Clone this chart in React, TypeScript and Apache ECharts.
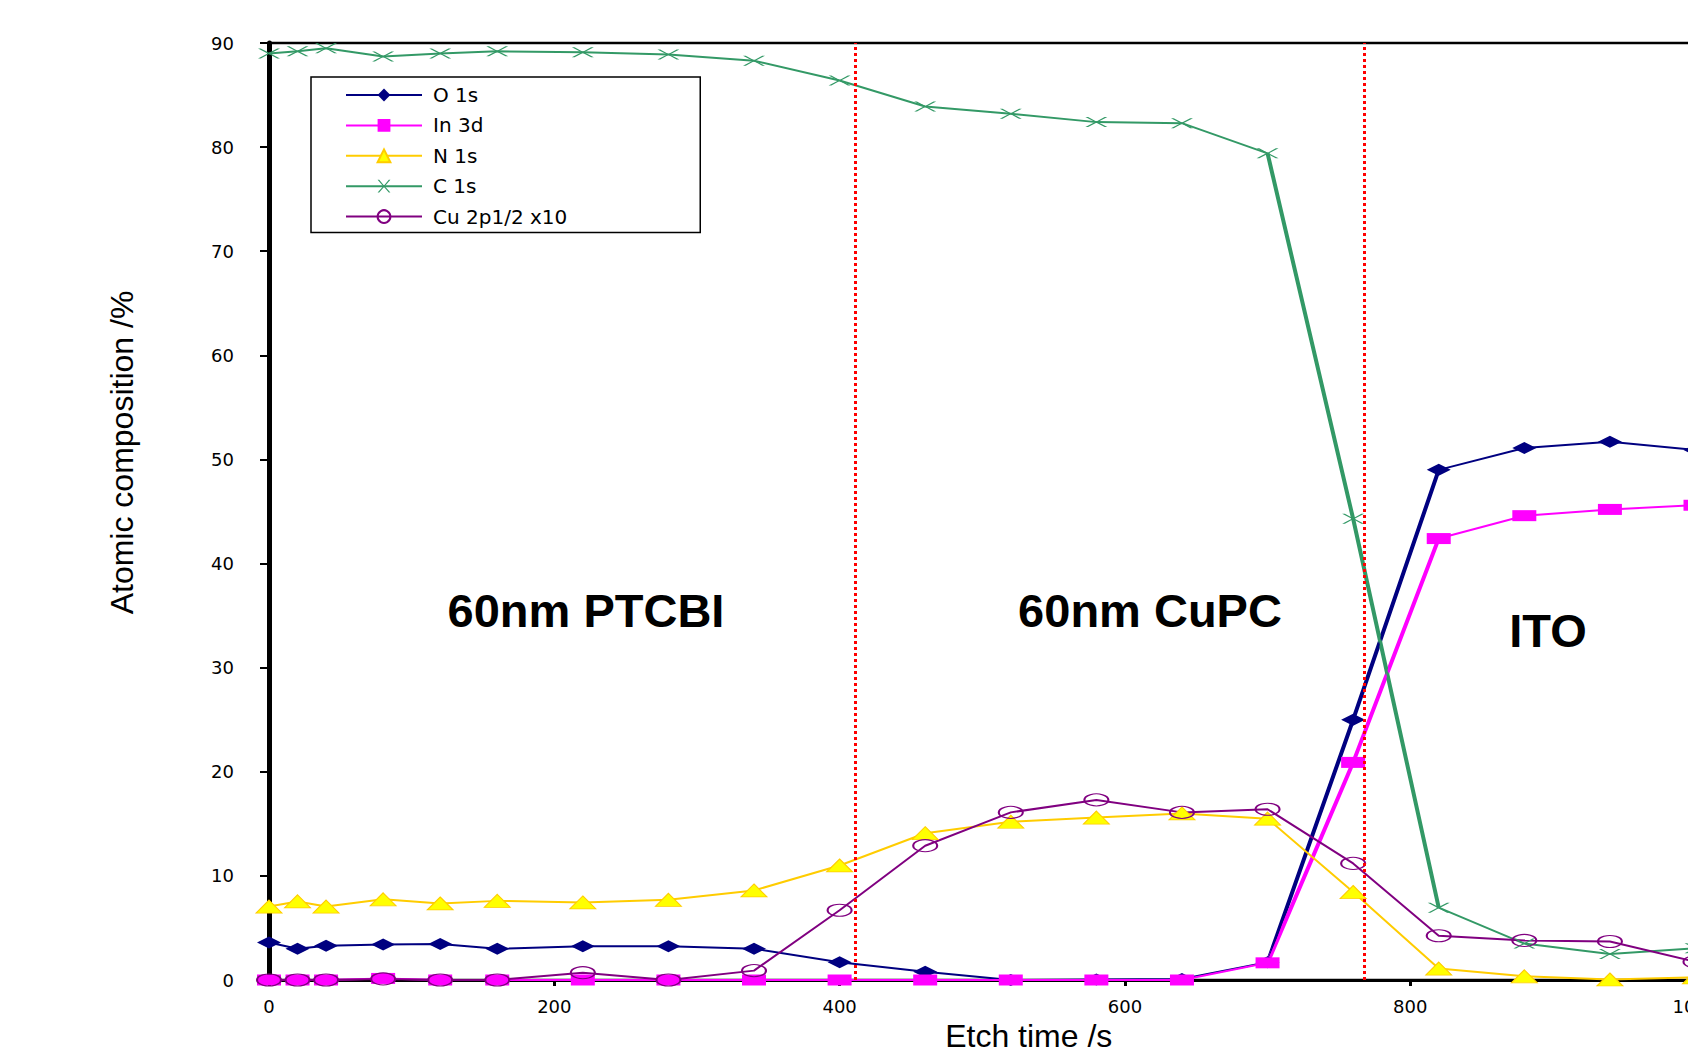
import React, { useEffect, useRef } from 'react';
import * as echarts from 'echarts';

// Etch time (s) of each XPS measurement
const etchTimes = [0, 20, 40, 80, 120, 160, 220, 280, 340, 400, 460, 520, 580, 640, 700, 760, 820, 880, 940, 1000];
// Atomic composition (%)
const o1s = [3.6, 3.0, 3.3, 3.4, 3.45, 3.0, 3.25, 3.25, 3.0, 1.7, 0.8, 0.0, 0.05, 0.1, 1.7, 25.0, 49.0, 51.1, 51.7, 50.9];
const in3d = [0, 0, 0, 0.15, 0, 0, 0, 0, 0, 0, 0, 0, 0, 0, 1.65, 20.9, 42.4, 44.6, 45.2, 45.6];
const n1s = [7.05, 7.55, 7.05, 7.75, 7.35, 7.6, 7.45, 7.7, 8.6, 11.0, 14.1, 15.2, 15.6, 16.0, 15.5, 8.45, 1.1, 0.35, 0.05, 0.25];
const c1s = [89.0, 89.2, 89.5, 88.7, 89.0, 89.2, 89.1, 88.9, 88.3, 86.4, 83.9, 83.2, 82.4, 82.3, 79.4, 44.3, 6.95, 3.5, 2.5, 3.05];
const cu2p = [0, 0, 0, 0.1, 0, 0, 0.7, 0, 0.9, 6.7, 12.9, 16.1, 17.3, 16.1, 16.4, 11.2, 4.25, 3.8, 3.7, 1.75];

const seriesNames = ['O 1s', 'In 3d', 'N 1s', 'C 1s', 'Cu 2p1/2 x10'];
const layerBoundaries = [411, 768];
const layerLabels = ['60nm PTCBI', '60nm CuPC', 'ITO'];
const xAxisRange = [0, 1000];
const yAxisRange = [0, 90];

const X_PATH = 'path://M0,0L3,0L12,8L21,0L24,0L13.5,9L24,18L21,18L12,10L3,18L0,18L10.5,9Z';

export default function App() {
  const ref = useRef<HTMLDivElement>(null);
  useEffect(() => {
    const chart = echarts.init(ref.current!, null, { renderer: 'svg' });
    const pair = (vals: number[]) => etchTimes.map((t, i) => [t, vals[i]]);
    // the steep interface segments (700 → 820 s) are drawn thicker in the original
    const seg = (vals: number[]) => etchTimes.slice(14, 17).map((t, i) => [t, vals[14 + i]]);

    const thick = (name: string, vals: number[], color: string) => ({
      type: 'line', name, data: seg(vals), symbol: 'none', silent: true,
      lineStyle: { color, width: 4 }, emphasis: { disabled: true },
    });

    const option: any = {
      animation: false,
      backgroundColor: '#fff',
      grid: {
        left: 269, top: 43, width: 1426.5, height: 937,
        outerBoundsMode: 'none', containLabel: false,
        show: true, borderColor: '#000', borderWidth: 2.5, backgroundColor: 'transparent',
      },
      legend: {
        orient: 'vertical', left: 311, top: 77,
        padding: [8, 133, 6, 34],
        itemWidth: 76, itemHeight: 16, itemGap: 10.4,
        borderColor: '#000', borderWidth: 1.5,
        selectedMode: false,
        data: seriesNames,
        textStyle: { fontFamily: 'DejaVu Sans', fontSize: 20, lineHeight: 20, color: '#000', padding: [0, 0, 0, 6] },
      },
      xAxis: {
        type: 'value', min: xAxisRange[0], max: xAxisRange[1], interval: 200,
        name: 'Etch time /s', nameLocation: 'middle', nameGap: 36,
        nameTextStyle: { fontFamily: 'Liberation Sans', fontSize: 32, color: '#000', padding: [0, 0, 0, 93] },
        axisLine: { lineStyle: { color: '#000', width: 3 } },
        axisTick: { show: true, inside: false, length: 6, lineStyle: { color: '#000', width: 3 } },
        axisLabel: { fontFamily: 'DejaVu Sans', fontSize: 18, color: '#000', margin: 17, formatter: (v: number) => String(v) },
        splitLine: { show: false },
      },
      yAxis: {
        type: 'value', min: yAxisRange[0], max: yAxisRange[1], interval: 10,
        name: 'Atomic composition /%', nameLocation: 'middle', nameGap: 131,
        nameTextStyle: { fontFamily: 'Liberation Sans', fontSize: 32, color: '#000', padding: [0, 0, 0, 118] },
        axisLine: { lineStyle: { color: '#000', width: 5 } },
        axisTick: { show: true, inside: false, length: 9, lineStyle: { color: '#000', width: 2 } },
        axisLabel: { fontFamily: 'DejaVu Sans', fontSize: 18, color: '#000', margin: 35, formatter: (v: number) => String(v) },
        splitLine: { show: false },
      },
      graphic: [
        { type: 'text', x: 586, y: 610, style: { text: layerLabels[0], font: 'bold 47px "Liberation Sans"', fill: '#000', textAlign: 'center', textVerticalAlign: 'middle' } },
        { type: 'text', x: 1150, y: 610, style: { text: layerLabels[1], font: 'bold 47px "Liberation Sans"', fill: '#000', textAlign: 'center', textVerticalAlign: 'middle' } },
        { type: 'text', x: 1548, y: 630, style: { text: layerLabels[2], font: 'bold 47px "Liberation Sans"', fill: '#000', textAlign: 'center', textVerticalAlign: 'middle' } },
      ],
      series: [
        thick('_O', o1s, '#000080'),
        thick('_In', in3d, '#FF00FF'),
        thick('_C', c1s, '#339966'),
        {
          type: 'line', name: seriesNames[0], data: pair(o1s),
          symbol: 'diamond', symbolSize: [24, 12],
          itemStyle: { color: '#000080' }, lineStyle: { color: '#000080', width: 2 },
          emphasis: { disabled: true },
        },
        {
          type: 'line', name: seriesNames[1], data: pair(in3d),
          symbol: 'rect', symbolSize: [24, 11],
          itemStyle: { color: '#FF00FF' }, lineStyle: { color: '#FF00FF', width: 2 },
          emphasis: { disabled: true },
        },
        {
          type: 'line', name: seriesNames[2], data: pair(n1s),
          symbol: 'triangle', symbolSize: [26, 13],
          itemStyle: { color: '#FFFF00', borderColor: '#FFCC00', borderWidth: 1 },
          lineStyle: { color: '#FFCC00', width: 2 },
          emphasis: { disabled: true },
        },
        {
          type: 'line', name: seriesNames[3], data: pair(c1s),
          symbol: X_PATH, symbolSize: [22, 10],
          itemStyle: { color: '#339966' }, lineStyle: { color: '#339966', width: 2 },
          emphasis: { disabled: true },
        },
        {
          type: 'line', name: seriesNames[4], data: pair(cu2p),
          symbol: 'circle', symbolSize: [24, 12],
          itemStyle: { color: 'rgba(255,255,255,0)', borderColor: '#800080', borderWidth: 1.5 },
          lineStyle: { color: '#800080', width: 2 },
          emphasis: { disabled: true },
          markLine: {
            silent: true, symbol: ['none', 'none'], label: { show: false }, z: 10,
            lineStyle: { color: '#FF0000', width: 3, type: [3, 3] },
            data: layerBoundaries.map((x) => ({ xAxis: x })),
          },
        },
      ],
    };
    chart.setOption(option);
    return () => chart.dispose();
  }, []);
  return (
    <div
      ref={ref}
      style={{ position: 'fixed', left: 0, top: 0, width: 1688, height: 1056, background: '#fff' }}
    />
  );
}
